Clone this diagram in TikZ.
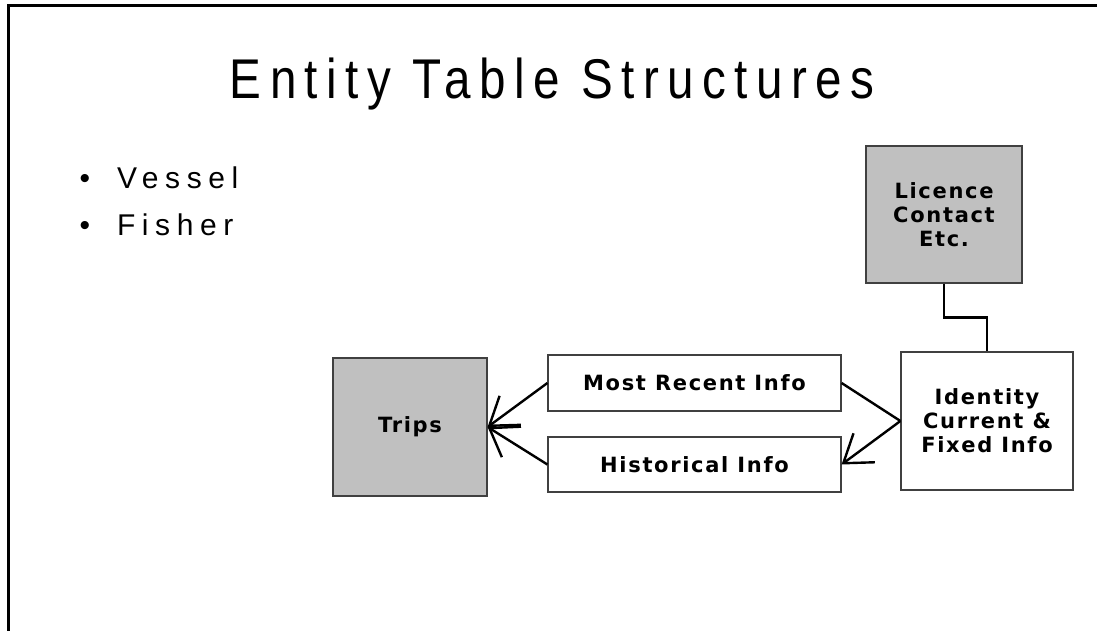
\documentclass[tikz,border=0pt]{standalone}
\usepackage{fontspec}
\setmainfont{Liberation Sans}
\newfontfamily\titlefont[FakeStretch=0.85,LetterSpace=15]{Liberation Sans}
\newfontfamily\bulletfont[LetterSpace=22]{Liberation Sans}
\newfontfamily\boxfont[LetterSpace=8]{DejaVu Sans}
\usetikzlibrary{arrows.meta}
\definecolor{boxgray}{HTML}{C0C0C0}
\definecolor{edgegray}{HTML}{404040}
\tikzset{
  box/.style={draw=edgegray, line width=1.2pt, fill=white, align=center, inner sep=0pt,
              font=\boxfont\bfseries\fontsize{21}{24}\selectfont},
  graybox/.style={box, fill=boxgray},
  link/.style={line width=2.4pt, black},
  arr/.style={link, -{Straight Barb[length=26pt, width=36pt, line width=2.4pt]}},
  bullet/.style={font=\bulletfont\fontsize{30}{34}\selectfont, anchor=base west}
}
\begin{document}
\begin{tikzpicture}[x=1pt, y=-1pt]
\useasboundingbox (0,0) rectangle (1097,631);
\draw[line width=3pt] (8,631) -- (8,6) -- (1097,6);
\node[font=\titlefont\fontsize{56}{60}\selectfont, anchor=base] (title) at (552,99) {Entity Table Structures};
\node[bullet] (b1) at (76,189) {\textbullet\hspace{27pt}Vessel};
\node[bullet] (b2) at (76,235) {\textbullet\hspace{27pt}Fisher};
\node[graybox, minimum width=154pt, minimum height=138pt] (trips) at (410,427) {Trips};
\node[box, minimum width=293pt, minimum height=56pt] (recent) at (694.5,383) {Most Recent Info};
\node[box, minimum width=293pt, minimum height=55pt] (hist) at (694.5,464.5) {Historical Info};
\node[box, minimum width=172pt, minimum height=138pt] (ident) at (987,421) {Identity\\Current \&\\Fixed Info};
\node[graybox, minimum width=156pt, minimum height=137pt] (lic) at (944,214.5) {Licence\\Contact\\Etc.};
\draw[link] (lic.south) -- ++(0,34) -| (ident.north);
\draw[arr] (recent.west) -- (trips.east);
\draw[arr] (hist.west) -- (trips.east);
\draw[link] (recent.east) -- (ident.west);
\draw[arr] (ident.west) -- (hist.east);
\end{tikzpicture}
\end{document}
